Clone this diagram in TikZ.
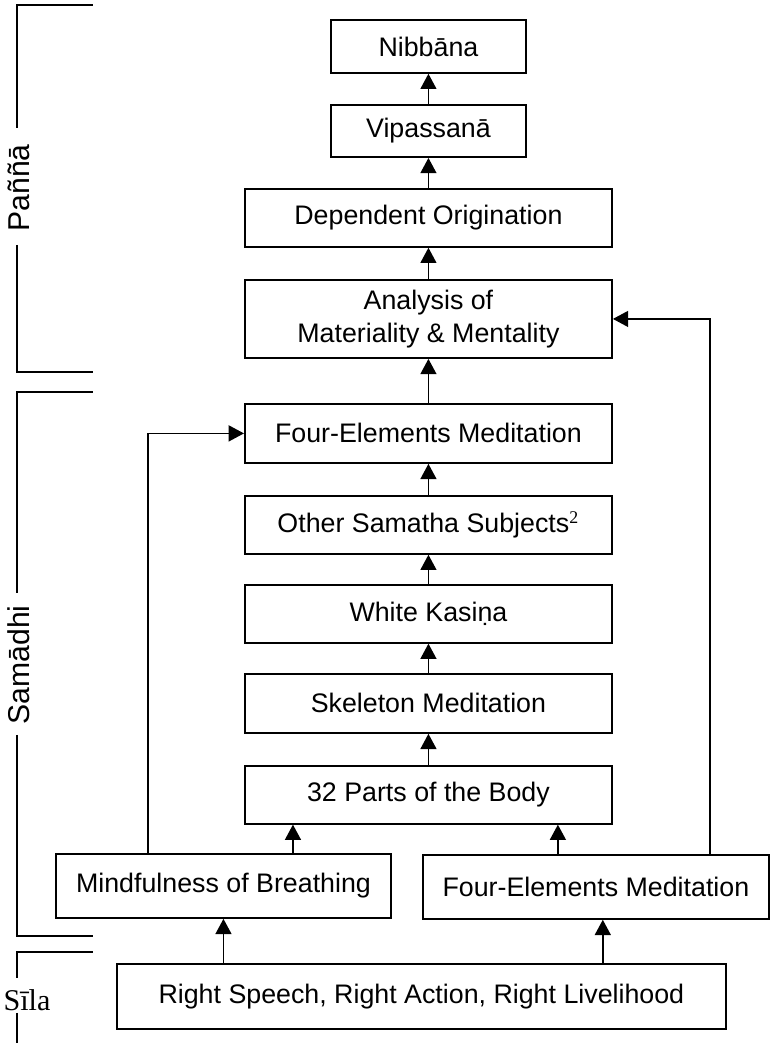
\documentclass[tikz,border=0pt]{standalone}
\usepackage{fontspec}
\setmainfont{Liberation Sans}
\newfontfamily\silafont{Liberation Serif}
\usetikzlibrary{arrows.meta}

\begin{document}
\begin{tikzpicture}[line width=0.8pt,
  box/.style={draw, inner sep=0pt, align=center, font=\fontsize{12}{15}\selectfont},
  arr/.style={-{Triangle[length=2.4mm,width=2.5mm]}},
  side/.style={font=\fontsize{13.5}{16}\selectfont, inner sep=0pt}]

\useasboundingbox (0,0) rectangle (12.12,-16.42);

% Pañña, the top of the path

\node[box, minimum width=3.07cm, minimum height=0.83cm] (nib) at (6.745,-0.732) {Nibbāna};
\node[box, minimum width=3.07cm, minimum height=0.82cm] (vip) at (6.745,-2.062) {Vipassanā};
\node[box, minimum width=5.78cm, minimum height=0.91cm] (dep) at (6.745,-3.431) {Dependent Origination};
\node[box, minimum width=5.78cm, minimum height=1.23cm] (ana) at (6.745,-5.021) {Analysis of\\Materiality \& Mentality};

% Samādhi

\node[box, minimum width=5.78cm, minimum height=0.93cm] (fet) at (6.745,-6.823) {Four-Elements Meditation};
\node[box, minimum width=5.78cm, minimum height=0.91cm] (oth) at (6.745,-8.264) {Other Samatha Subjects\textsuperscript{\silafont 2}};
\node[box, minimum width=5.78cm, minimum height=0.91cm] (whi) at (6.745,-9.664) {White Kasiṇa};
\node[box, minimum width=5.78cm, minimum height=0.93cm] (ske) at (6.745,-11.073) {Skeleton Meditation};
\node[box, minimum width=5.78cm, minimum height=0.91cm] (par) at (6.745,-12.513) {32 Parts of the Body};
\node[box, minimum width=5.27cm, minimum height=1.01cm] (mnd) at (3.518,-13.946) {Mindfulness of Breathing};
\node[box, minimum width=5.45cm, minimum height=1.01cm] (feb) at (9.381,-13.961) {Four-Elements Meditation};

% Sīla

\node[box, minimum width=9.59cm, minimum height=1.02cm] (rsp) at (6.634,-15.685) {Right Speech, Right Action, Right Livelihood};

\draw[arr] (vip) -- (nib);
\draw[arr] (dep) -- (vip);
\draw[arr] (ana) -- (dep);
\draw[arr] (fet) -- (ana);
\draw[arr] (oth) -- (fet);
\draw[arr] (whi) -- (oth);
\draw[arr] (ske) -- (whi);
\draw[arr] (par) -- (ske);
\draw[arr] (4.612,0 |- mnd.north) -- (4.612,0 |- par.south);
\draw[arr] (8.783,0 |- feb.north) -- (8.783,0 |- par.south);
\draw[arr] (2.33,0 |- mnd.north) |- (fet.west);
\draw[arr] (11.175,0 |- feb.north) |- (ana.east);
\draw[arr] (rsp.north -| mnd.south) -- (mnd.south);
\draw[arr] (9.49,0 |- rsp.north) -- (9.49,0 |- feb.south);

% brackets on the left

\node[side, rotate=90] (pan) at (0.30,-2.959) {Paññā};
\draw (1.464,-0.079) -- (0.268,-0.079) -- (0.268,-2.015);
\draw (0.268,-3.856) -- (0.268,-5.855) -- (1.464,-5.855);

\node[side, rotate=90] (sam) at (0.30,-10.467) {Samādhi};
\draw (1.464,-6.170) -- (0.268,-6.170) -- (0.268,-9.334);
\draw (0.268,-11.569) -- (0.268,-14.733) -- (1.464,-14.733);

\node[side, font=\silafont\fontsize{13.5}{16}\selectfont] (sil) at (0.425,-15.74) {Sīla};
\draw (1.464,-14.984) -- (0.268,-14.984) -- (0.268,-15.394);
\draw (0.268,-15.945) -- (0.268,-16.42);

\end{tikzpicture}
\end{document}
